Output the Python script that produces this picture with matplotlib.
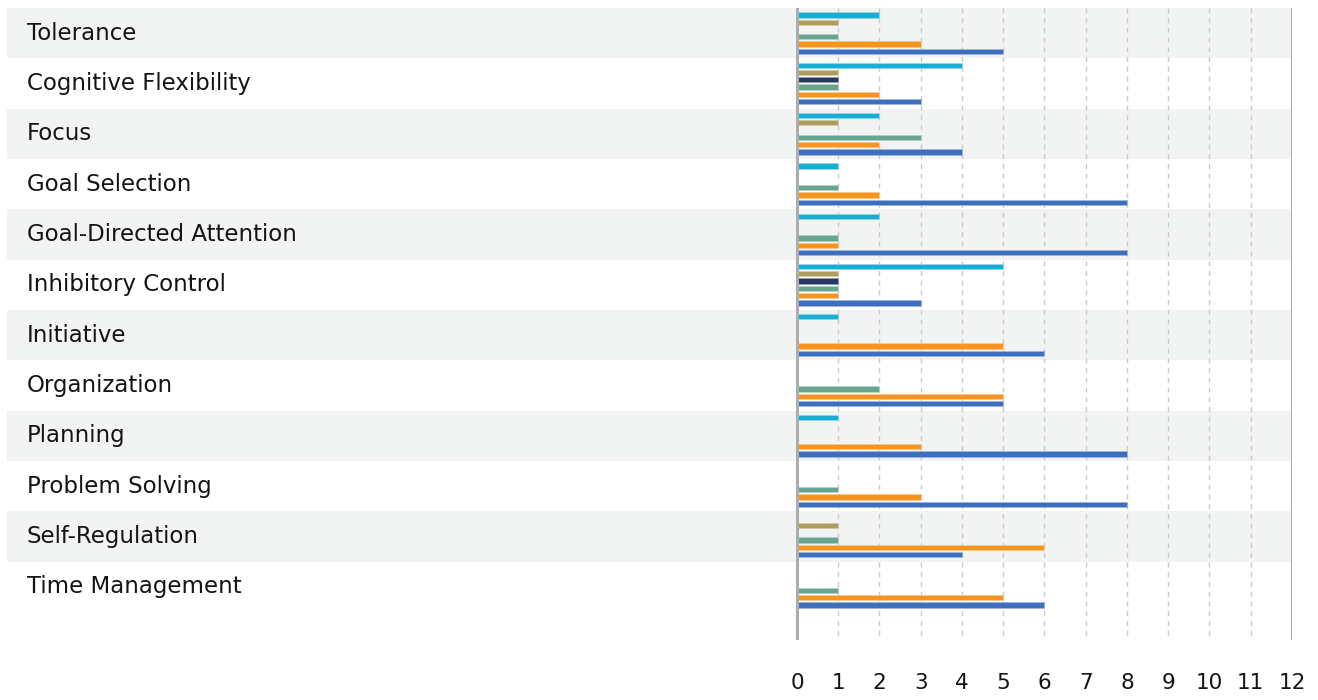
import numpy as np
import matplotlib.pyplot as plt
from matplotlib.patches import Rectangle

# Categories top to bottom
categories = ["Tolerance", "Cognitive Flexibility", "Focus", "Goal Selection",
              "Goal-Directed Attention", "Inhibitory Control", "Initiative",
              "Organization", "Planning", "Problem Solving", "Self-Regulation",
              "Time Management"]

# Series, in the order they stack inside each band (top to bottom)
cyan_vals = [2, 4, 2, 1, 2, 5, 1, 0, 1, 0, 0, 0]
khaki_vals = [1, 1, 1, 0, 0, 1, 0, 0, 0, 0, 1, 0]
navy_vals = [0, 1, 0, 0, 0, 1, 0, 0, 0, 0, 0, 0]
green_vals = [1, 1, 3, 1, 1, 1, 0, 2, 0, 1, 1, 1]
orange_vals = [3, 2, 2, 2, 1, 1, 5, 5, 3, 3, 6, 5]
blue_vals = [5, 3, 4, 8, 8, 3, 6, 5, 8, 8, 4, 6]

series = [cyan_vals, khaki_vals, navy_vals, green_vals, orange_vals, blue_vals]
colors = ["#17aed2", "#ae9e5e", "#263a5f", "#68a58f", "#f7941e", "#3e6fbe"]
edges = ["#8fd6ea", "#d4c9a6", "#8a96ad", "#b3d2c6", "#fbc88c", "#9db6df"]

xticks = list(range(0, 13))

fig = plt.figure(figsize=(13.18, 7.0), dpi=100)
W, H = 1318, 700
ax = fig.add_axes([7 / W, 1 - 640 / H, (1292 - 7) / W, (640 - 8) / H])

unit = (1292 - 797) / 12.0
xmin = -(797 - 7) / unit
ax.set_xlim(xmin, 12)
ax.set_ylim(12.56, 0)

n = len(categories)
# alternating bands + row labels
for i in range(n):
    if i % 2 == 0:
        ax.add_patch(Rectangle((xmin, i), 12 - xmin, 1, facecolor="#f2f3f3",
                               edgecolor="none", zorder=0))
    ax.text(xmin + (27 - 7) / unit, i + 0.5, categories[i], fontsize=16.5,
            color="#141414", va="center", ha="left")

# dashed grid
for t in range(1, 12):
    ax.plot([t, t], [0, 12.56], ls=(0, (3.5, 3.5)), color="#c9c9c9", lw=1, zorder=1)
ax.plot([0, 0], [0, 12.56], color="#adadad", lw=2.2, zorder=3)
ax.plot([12, 12], [-0.02, 12.56], color="#adadad", lw=2.2, zorder=3)

y = np.arange(n)
bh = 0.105
for k, (vals, c, ec) in enumerate(zip(series, colors, edges)):
    off = 0.5 + (k - 2.5) * 0.145
    ax.barh(y + off, vals, height=bh, left=0, color=c, edgecolor=ec,
            linewidth=0.6, zorder=2)

for t in xticks:
    fig.text((797 + t * unit) / W, 1 - 683 / H, str(t), fontsize=15.5,
             color="#141414", ha="center", va="center")

ax.axis("off")
fig.savefig("out.png", dpi=100)
